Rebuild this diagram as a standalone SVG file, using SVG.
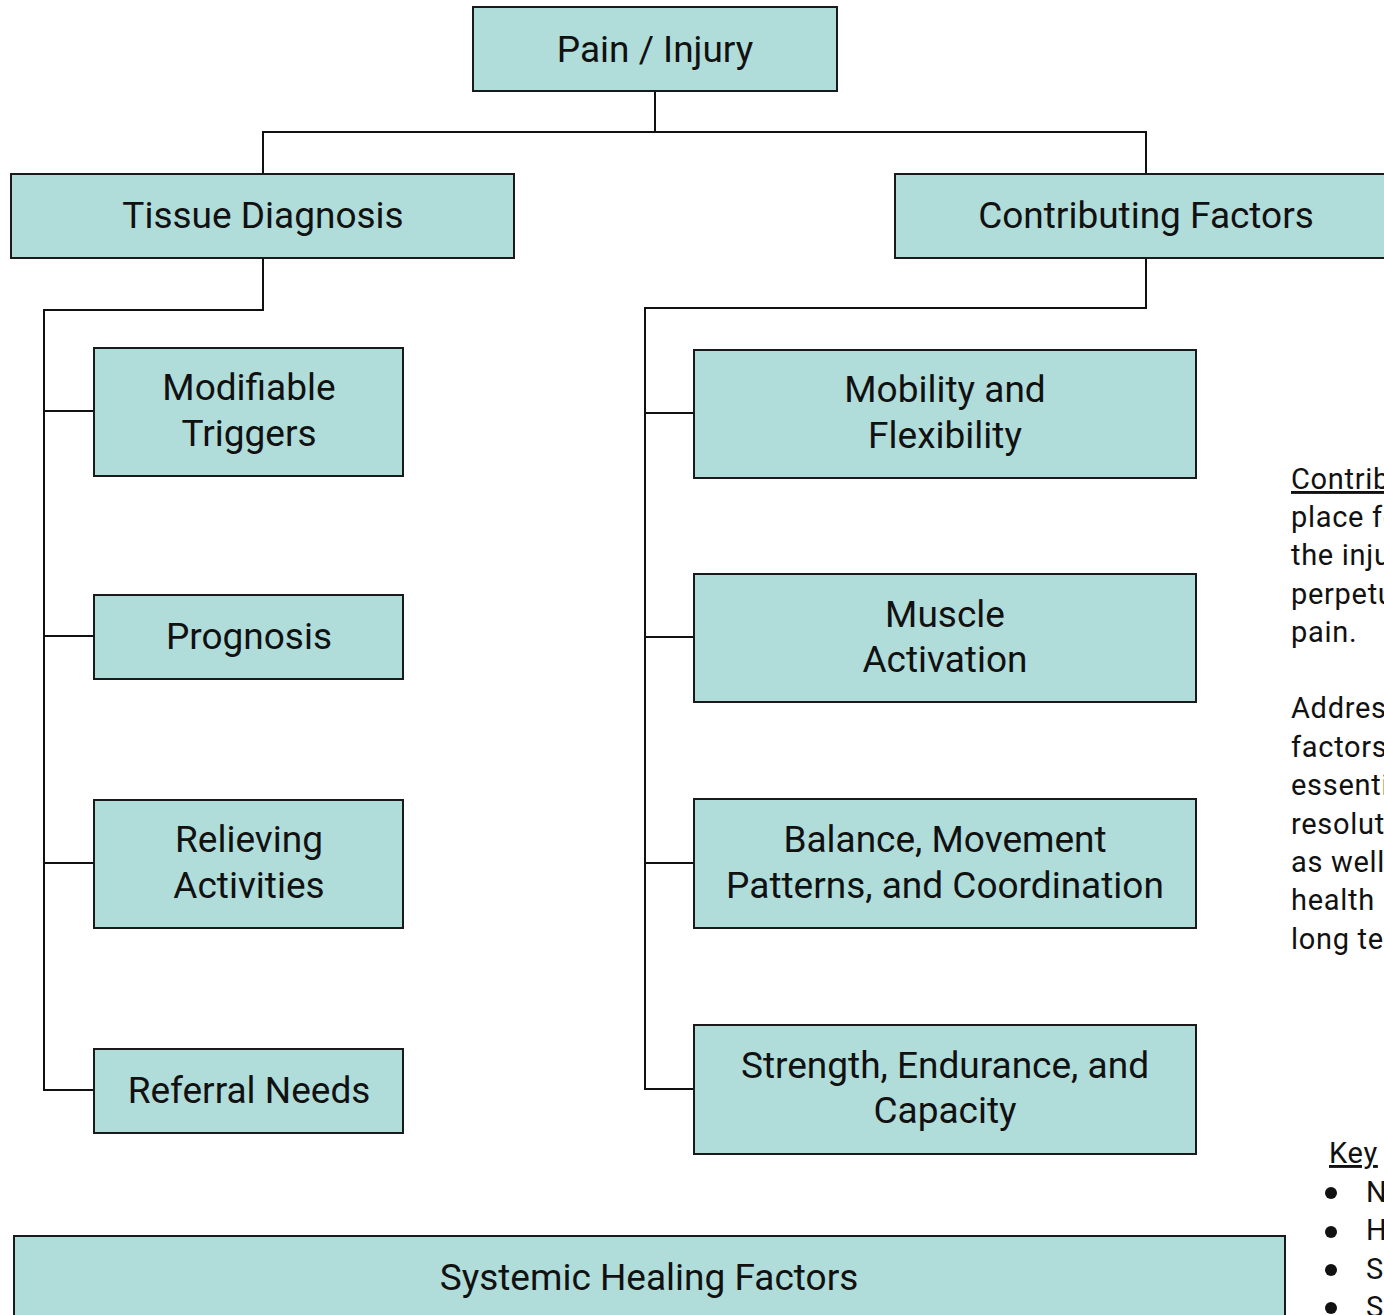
<svg xmlns="http://www.w3.org/2000/svg" width="1384" height="1315" viewBox="0 0 1384 1315">
<style>
.box{fill:#b0dcd9;stroke:#1a1a1a;stroke-width:2}
.t{font-family:Roboto,"Liberation Sans",sans-serif;font-size:37px;fill:#111;text-anchor:middle}
.side{font-family:Roboto,"Liberation Sans",sans-serif;font-size:29px;letter-spacing:0.7px;fill:#111}
.c{fill:none;stroke:#111;stroke-width:2}
</style>
<rect width="1384" height="1315" fill="#fff"/>
<g id="connectors">
<path class="c" d="M655 91V132M263 174V132H1146V174"/>
<path class="c" d="M263 258V310H44V1090H94M44 411H94M44 636H94M44 863H94"/>
<path class="c" d="M1146 258V308H645V1089H694M645 413H694M645 637H694M645 863H694"/>
</g>
<g id="pain"><rect class="box" x="473" y="7" width="364" height="84"/><text class="t" x="655" y="62">Pain / Injury</text></g>
<g id="tissue"><rect class="box" x="11" y="174" width="503" height="84"/><text class="t" x="263" y="228">Tissue Diagnosis</text></g>
<g id="contributing"><rect class="box" x="895" y="174" width="503" height="84"/><text class="t" x="1146" y="228">Contributing Factors</text></g>
<g id="modifiable"><rect class="box" x="94" y="348" width="309" height="128"/><text class="t" x="249" y="400">Modifiable</text><text class="t" x="249" y="446">Triggers</text></g>
<g id="prognosis"><rect class="box" x="94" y="595" width="309" height="84"/><text class="t" x="249" y="649">Prognosis</text></g>
<g id="relieving"><rect class="box" x="94" y="800" width="309" height="128"/><text class="t" x="249" y="852">Relieving</text><text class="t" x="249" y="898">Activities</text></g>
<g id="referral"><rect class="box" x="94" y="1049" width="309" height="84"/><text class="t" x="249" y="1103">Referral Needs</text></g>
<g id="mobility"><rect class="box" x="694" y="350" width="502" height="128"/><text class="t" x="945" y="402">Mobility and</text><text class="t" x="945" y="448">Flexibility</text></g>
<g id="muscle"><rect class="box" x="694" y="574" width="502" height="128"/><text class="t" x="945" y="627">Muscle</text><text class="t" x="945" y="672">Activation</text></g>
<g id="balance"><rect class="box" x="694" y="799" width="502" height="129"/><text class="t" x="945" y="852">Balance, Movement</text><text class="t" x="945" y="898">Patterns, and Coordination</text></g>
<g id="strength"><rect class="box" x="694" y="1025" width="502" height="129"/><text class="t" x="945" y="1078">Strength, Endurance, and</text><text class="t" x="945" y="1123">Capacity</text></g>
<g id="systemic"><rect class="box" x="14" y="1236" width="1271" height="90"/><text class="t" x="649" y="1290">Systemic Healing Factors</text></g>
<g id="note">
<text class="side" x="1291" y="489" text-decoration="underline">Contributing</text>
<text class="side" x="1291" y="527">place for</text>
<text class="side" x="1291" y="565">the injury</text>
<text class="side" x="1291" y="604">perpetuate</text>
<text class="side" x="1291" y="642">pain.</text>
<text class="side" x="1291" y="718">Addressing</text>
<text class="side" x="1291" y="757">factors</text>
<text class="side" x="1291" y="795">essential</text>
<text class="side" x="1291" y="834">resolution</text>
<text class="side" x="1291" y="872">as well</text>
<text class="side" x="1291" y="910">health</text>
<text class="side" x="1291" y="949">long term</text>
</g>
<g id="key">
<text class="side" x="1329" y="1163" text-decoration="underline">Key</text>
<circle cx="1331" cy="1193" r="6" fill="#111"/><text class="side" x="1366" y="1202">N</text>
<circle cx="1331" cy="1232" r="6" fill="#111"/><text class="side" x="1366" y="1240">H</text>
<circle cx="1331" cy="1270" r="6" fill="#111"/><text class="side" x="1366" y="1279">S</text>
<circle cx="1331" cy="1308" r="6" fill="#111"/><text class="side" x="1366" y="1317">S</text>
</g>
</svg>
